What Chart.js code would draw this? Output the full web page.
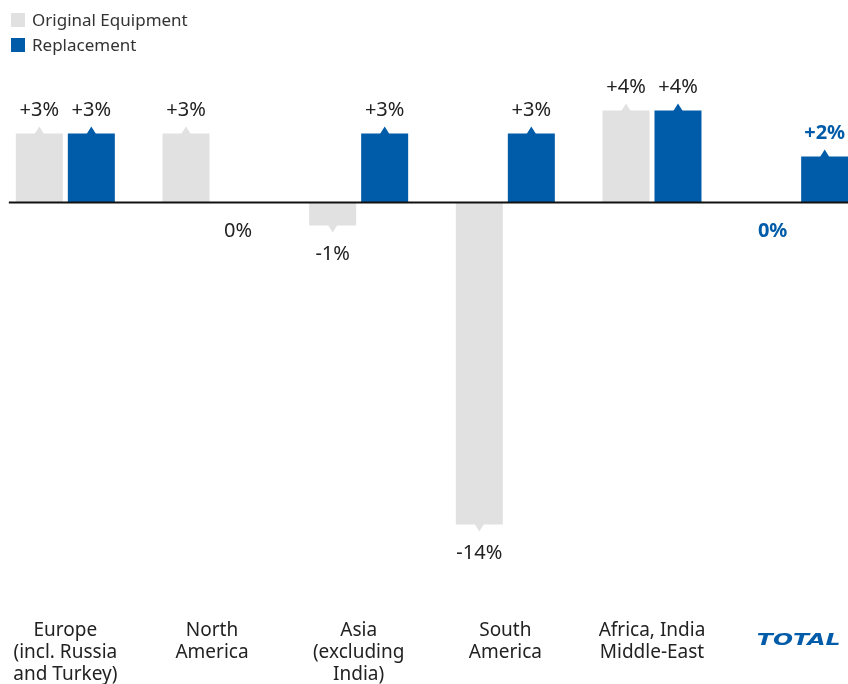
<!DOCTYPE html>
<html lang="en">
<head>
    <meta charset="UTF-8">
    <title>Market growth by region</title>
    <script src="https://cdn.jsdelivr.net/npm/chart.js"></script>
    <style>
        html, body {
            margin: 0;
            padding: 0;
            background: #fff;
            overflow: hidden;
        }
        body {
            width: 848px;
            height: 684px;
            position: relative;
            font-family: "Noto Sans", sans-serif;
        }
        #chartWrap {
            position: absolute;
            left: -8px;
            top: 0;
        }
        #legend {
            position: absolute;
            left: 11px;
            top: 7px;
        }
        .legend-item {
            display: flex;
            align-items: center;
            height: 25px;
            font-size: 17px;
            color: #333;
        }
        .legend-swatch {
            width: 14px;
            height: 14px;
            margin-right: 7px;
        }
    </style>
</head>
<body>
    <div id="chartWrap"><canvas id="myChart" width="880" height="684"></canvas></div>
    <div id="legend"></div>

    <script>
        // regions (multi-line labels), last column is the overall total
        const regions = [
            ['Europe', '(incl. Russia', 'and Turkey)'],
            ['North', 'America'],
            ['Asia', '(excluding', 'India)'],
            ['South', 'America'],
            ['Africa, India', 'Middle-East'],
            'TOTAL'
        ];
        const seriesNames = ['Original Equipment', 'Replacement'];
        const originalEquipment = [3, 3, -1, -14, 4, 0];
        const replacement = [3, 0, 3, 3, 4, 2];

        const GREY = '#e1e1e1';
        const BLUE = '#005ca9';
        const TEXT = '#222';
        const totalIndex = regions.length - 1;

        // legend, stacked vertically in the top-left corner
        const legendBox = document.getElementById('legend');
        [GREY, BLUE].forEach((c, i) => {
            const row = document.createElement('div');
            row.className = 'legend-item';
            row.innerHTML = `<span class="legend-swatch" style="background:${c}"></span>${seriesNames[i]}`;
            legendBox.appendChild(row);
        });

        // zero line, pointer triangles and value labels
        const barMarkers = {
            id: 'barMarkers',
            afterDatasetsDraw(chart) {
                const ctx = chart.ctx;
                const zeroY = chart.scales.y.getPixelForValue(0);
                const first = chart.getDatasetMeta(0).data[0];

                ctx.save();
                ctx.strokeStyle = '#111';
                ctx.lineWidth = 2;
                ctx.beginPath();
                ctx.moveTo(first.x - first.width / 2 - 7, zeroY);
                ctx.lineTo(chart.chartArea.right, zeroY);
                ctx.stroke();

                chart.data.datasets.forEach((ds, di) => {
                    chart.getDatasetMeta(di).data.forEach((bar, i) => {
                        const v = ds.data[i];
                        const isTotal = i === totalIndex;

                        if (v !== 0) {
                            const dir = v > 0 ? -1 : 1;
                            ctx.fillStyle = ds.backgroundColor;
                            ctx.beginPath();
                            ctx.moveTo(bar.x - 5, bar.y - dir);
                            ctx.lineTo(bar.x, bar.y + dir * 7);
                            ctx.lineTo(bar.x + 5, bar.y - dir);
                            ctx.closePath();
                            ctx.fill();
                        }

                        ctx.font = (isTotal ? 'bold ' : '') + '20px "Noto Sans", sans-serif';
                        ctx.fillStyle = isTotal ? BLUE : TEXT;
                        ctx.textAlign = 'center';
                        ctx.textBaseline = 'alphabetic';
                        const txt = (v > 0 ? '+' : '') + v + '%';
                        const y = v > 0 ? bar.y - 18 : (v < 0 ? bar.y : zeroY) + 34;
                        ctx.fillText(txt, bar.x, y);
                    });
                });
                ctx.restore();
            },
            // the TOTAL column label is set as a wide, heavy italic wordmark
            afterDraw(chart) {
                const ctx = chart.ctx;
                const x = chart.scales.x.getPixelForTick(totalIndex);
                ctx.save();
                ctx.translate(x, 641);
                ctx.scale(1.43, 1);
                ctx.font = 'italic bold 16.5px "DejaVu Sans", sans-serif';
                ctx.fillStyle = BLUE;
                ctx.textAlign = 'center';
                ctx.textBaseline = 'middle';
                ctx.fillText(chart.data.labels[totalIndex], 0, 0);
                ctx.restore();
            }
        };

        const ctx = document.getElementById('myChart').getContext('2d');
        new Chart(ctx, {
            type: 'bar',
            data: {
                labels: regions,
                datasets: [{
                    label: seriesNames[0],
                    data: originalEquipment,
                    backgroundColor: GREY,
                    barPercentage: 0.904,
                    categoryPercentage: 0.709
                }, {
                    label: seriesNames[1],
                    data: replacement,
                    backgroundColor: BLUE,
                    barPercentage: 0.904,
                    categoryPercentage: 0.709
                }]
            },
            options: {
                responsive: false,
                animation: false,
                layout: {
                    padding: { top: 64.5, bottom: 0, left: 0, right: 0 }
                },
                plugins: {
                    legend: { display: false },
                    tooltip: { enabled: false }
                },
                scales: {
                    x: {
                        grid: { display: false, drawTicks: true, tickLength: 40 },
                        border: { display: false },
                        afterFit: scale => { scale.height = 113.5; },
                        ticks: {
                            padding: 9,
                            autoSkip: false,
                            maxRotation: 0,
                            crossAlign: 'near',
                            color: TEXT,
                            font: { family: '"Noto Sans", sans-serif', size: 19, lineHeight: 1.15 },
                            callback: (val, i) => i === totalIndex ? '' : regions[i]
                        }
                    },
                    y: {
                        display: false,
                        min: -16,
                        max: 6
                    }
                }
            },
            plugins: [barMarkers]
        });
    </script>
</body>
</html>
